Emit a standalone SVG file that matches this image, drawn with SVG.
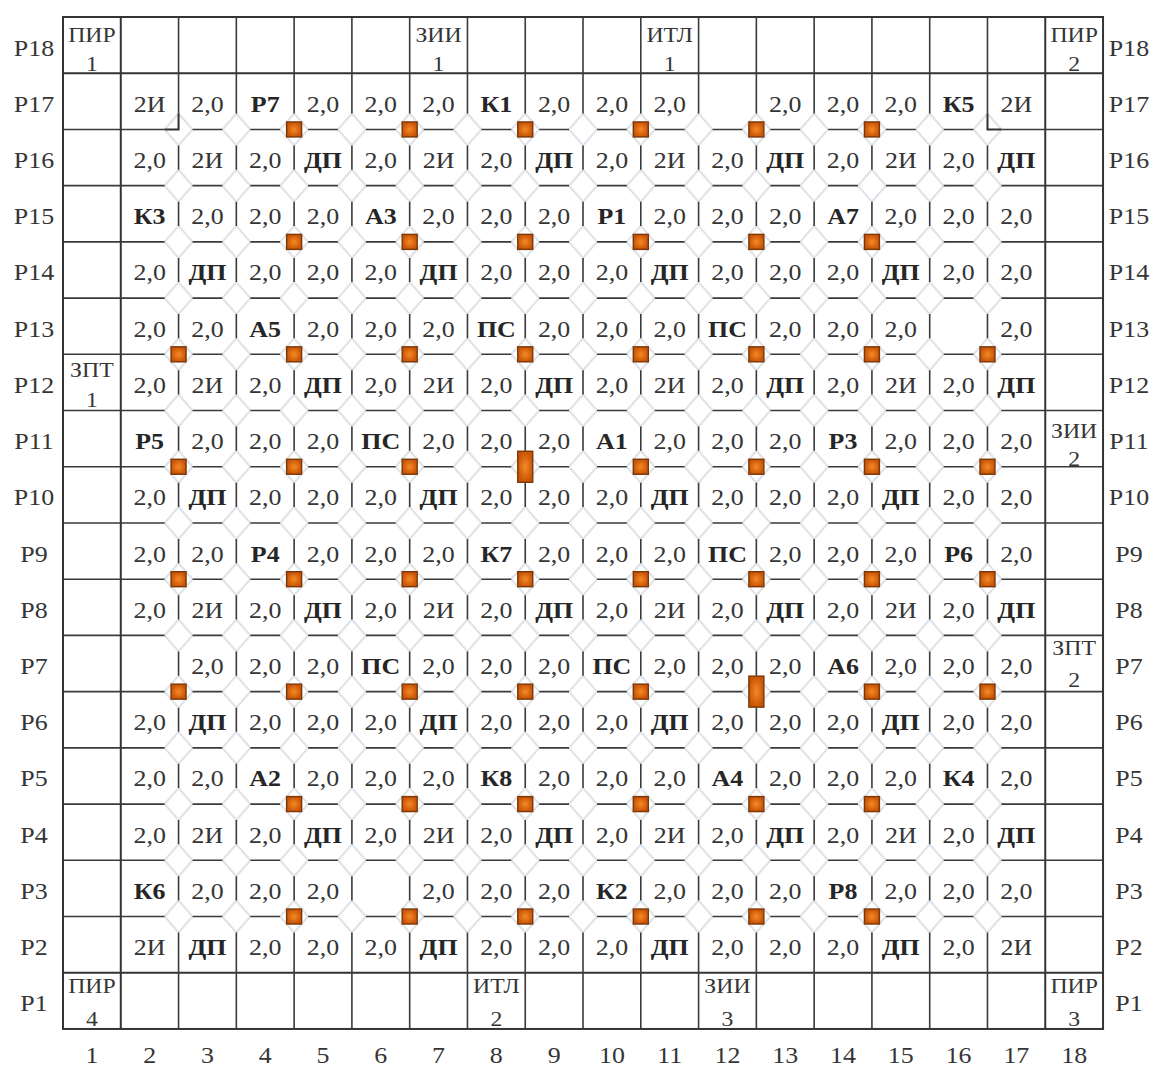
<svg xmlns="http://www.w3.org/2000/svg" width="1157" height="1066" viewBox="0 0 1157 1066">
<style>
.ln{fill:none;stroke:#3a3a3a;stroke-width:1.6}
.fr{fill:none;stroke:#333;stroke-width:2}
.dia{fill:none;stroke:#e0e3e7;stroke-width:2.2}
.sq{fill:url(#og);stroke:#7a3808;stroke-width:1.4}
text{font-family:"Liberation Serif","Times New Roman",serif;font-size:24px;fill:#353535;text-anchor:middle}
.b{font-weight:bold;fill:#262626}
.s{font-size:22px}
</style>
<defs>
<radialGradient id="og"><stop offset="0" stop-color="#f58a25"/><stop offset="1" stop-color="#c95407"/></radialGradient>
<rect id="q" class="sq" x="-7.5" y="-7.5" width="15" height="15"/>
<rect id="qt" class="sq" x="-7.5" y="-15.5" width="15" height="31"/>
</defs>
<rect width="1157" height="1066" fill="#fff"/>
<g id="octagon-pattern" class="dia">
<path d="M164.56,129.44l14,-16 14,16-14,16zm57.78,0l14,-16 14,16-14,16zm57.78,0l14,-16 14,16-14,16zm57.78,0l14,-16 14,16-14,16zm57.78,0l14,-16 14,16-14,16zm57.78,0l14,-16 14,16-14,16zm57.78,0l14,-16 14,16-14,16zm57.78,0l14,-16 14,16-14,16zm57.78,0l14,-16 14,16-14,16zm57.78,0l14,-16 14,16-14,16zm57.78,0l14,-16 14,16-14,16zm57.78,0l14,-16 14,16-14,16zm57.78,0l14,-16 14,16-14,16zm57.78,0l14,-16 14,16-14,16zm57.78,0l14,-16 14,16-14,16z"/>
<path d="M164.56,185.66l14,-16 14,16-14,16zm57.78,0l14,-16 14,16-14,16zm57.78,0l14,-16 14,16-14,16zm57.78,0l14,-16 14,16-14,16zm57.78,0l14,-16 14,16-14,16zm57.78,0l14,-16 14,16-14,16zm57.78,0l14,-16 14,16-14,16zm57.78,0l14,-16 14,16-14,16zm57.78,0l14,-16 14,16-14,16zm57.78,0l14,-16 14,16-14,16zm57.78,0l14,-16 14,16-14,16zm57.78,0l14,-16 14,16-14,16zm57.78,0l14,-16 14,16-14,16zm57.78,0l14,-16 14,16-14,16zm57.78,0l14,-16 14,16-14,16z"/>
<path d="M164.56,241.88l14,-16 14,16-14,16zm57.78,0l14,-16 14,16-14,16zm57.78,0l14,-16 14,16-14,16zm57.78,0l14,-16 14,16-14,16zm57.78,0l14,-16 14,16-14,16zm57.78,0l14,-16 14,16-14,16zm57.78,0l14,-16 14,16-14,16zm57.78,0l14,-16 14,16-14,16zm57.78,0l14,-16 14,16-14,16zm57.78,0l14,-16 14,16-14,16zm57.78,0l14,-16 14,16-14,16zm57.78,0l14,-16 14,16-14,16zm57.78,0l14,-16 14,16-14,16zm57.78,0l14,-16 14,16-14,16zm57.78,0l14,-16 14,16-14,16z"/>
<path d="M164.56,298.1l14,-16 14,16-14,16zm57.78,0l14,-16 14,16-14,16zm57.78,0l14,-16 14,16-14,16zm57.78,0l14,-16 14,16-14,16zm57.78,0l14,-16 14,16-14,16zm57.78,0l14,-16 14,16-14,16zm57.78,0l14,-16 14,16-14,16zm57.78,0l14,-16 14,16-14,16zm57.78,0l14,-16 14,16-14,16zm57.78,0l14,-16 14,16-14,16zm57.78,0l14,-16 14,16-14,16zm57.78,0l14,-16 14,16-14,16zm57.78,0l14,-16 14,16-14,16zm57.78,0l14,-16 14,16-14,16zm57.78,0l14,-16 14,16-14,16z"/>
<path d="M164.56,354.32l14,-16 14,16-14,16zm57.78,0l14,-16 14,16-14,16zm57.78,0l14,-16 14,16-14,16zm57.78,0l14,-16 14,16-14,16zm57.78,0l14,-16 14,16-14,16zm57.78,0l14,-16 14,16-14,16zm57.78,0l14,-16 14,16-14,16zm57.78,0l14,-16 14,16-14,16zm57.78,0l14,-16 14,16-14,16zm57.78,0l14,-16 14,16-14,16zm57.78,0l14,-16 14,16-14,16zm57.78,0l14,-16 14,16-14,16zm57.78,0l14,-16 14,16-14,16zm57.78,0l14,-16 14,16-14,16zm57.78,0l14,-16 14,16-14,16z"/>
<path d="M164.56,410.54l14,-16 14,16-14,16zm57.78,0l14,-16 14,16-14,16zm57.78,0l14,-16 14,16-14,16zm57.78,0l14,-16 14,16-14,16zm57.78,0l14,-16 14,16-14,16zm57.78,0l14,-16 14,16-14,16zm57.78,0l14,-16 14,16-14,16zm57.78,0l14,-16 14,16-14,16zm57.78,0l14,-16 14,16-14,16zm57.78,0l14,-16 14,16-14,16zm57.78,0l14,-16 14,16-14,16zm57.78,0l14,-16 14,16-14,16zm57.78,0l14,-16 14,16-14,16zm57.78,0l14,-16 14,16-14,16zm57.78,0l14,-16 14,16-14,16z"/>
<path d="M164.56,466.76l14,-16 14,16-14,16zm57.78,0l14,-16 14,16-14,16zm57.78,0l14,-16 14,16-14,16zm57.78,0l14,-16 14,16-14,16zm57.78,0l14,-16 14,16-14,16zm57.78,0l14,-16 14,16-14,16zm57.78,0l14,-16 14,16-14,16zm57.78,0l14,-16 14,16-14,16zm57.78,0l14,-16 14,16-14,16zm57.78,0l14,-16 14,16-14,16zm57.78,0l14,-16 14,16-14,16zm57.78,0l14,-16 14,16-14,16zm57.78,0l14,-16 14,16-14,16zm57.78,0l14,-16 14,16-14,16zm57.78,0l14,-16 14,16-14,16z"/>
<path d="M164.56,522.98l14,-16 14,16-14,16zm57.78,0l14,-16 14,16-14,16zm57.78,0l14,-16 14,16-14,16zm57.78,0l14,-16 14,16-14,16zm57.78,0l14,-16 14,16-14,16zm57.78,0l14,-16 14,16-14,16zm57.78,0l14,-16 14,16-14,16zm57.78,0l14,-16 14,16-14,16zm57.78,0l14,-16 14,16-14,16zm57.78,0l14,-16 14,16-14,16zm57.78,0l14,-16 14,16-14,16zm57.78,0l14,-16 14,16-14,16zm57.78,0l14,-16 14,16-14,16zm57.78,0l14,-16 14,16-14,16zm57.78,0l14,-16 14,16-14,16z"/>
<path d="M164.56,579.2l14,-16 14,16-14,16zm57.78,0l14,-16 14,16-14,16zm57.78,0l14,-16 14,16-14,16zm57.78,0l14,-16 14,16-14,16zm57.78,0l14,-16 14,16-14,16zm57.78,0l14,-16 14,16-14,16zm57.78,0l14,-16 14,16-14,16zm57.78,0l14,-16 14,16-14,16zm57.78,0l14,-16 14,16-14,16zm57.78,0l14,-16 14,16-14,16zm57.78,0l14,-16 14,16-14,16zm57.78,0l14,-16 14,16-14,16zm57.78,0l14,-16 14,16-14,16zm57.78,0l14,-16 14,16-14,16zm57.78,0l14,-16 14,16-14,16z"/>
<path d="M164.56,635.42l14,-16 14,16-14,16zm57.78,0l14,-16 14,16-14,16zm57.78,0l14,-16 14,16-14,16zm57.78,0l14,-16 14,16-14,16zm57.78,0l14,-16 14,16-14,16zm57.78,0l14,-16 14,16-14,16zm57.78,0l14,-16 14,16-14,16zm57.78,0l14,-16 14,16-14,16zm57.78,0l14,-16 14,16-14,16zm57.78,0l14,-16 14,16-14,16zm57.78,0l14,-16 14,16-14,16zm57.78,0l14,-16 14,16-14,16zm57.78,0l14,-16 14,16-14,16zm57.78,0l14,-16 14,16-14,16zm57.78,0l14,-16 14,16-14,16z"/>
<path d="M164.56,691.64l14,-16 14,16-14,16zm57.78,0l14,-16 14,16-14,16zm57.78,0l14,-16 14,16-14,16zm57.78,0l14,-16 14,16-14,16zm57.78,0l14,-16 14,16-14,16zm57.78,0l14,-16 14,16-14,16zm57.78,0l14,-16 14,16-14,16zm57.78,0l14,-16 14,16-14,16zm57.78,0l14,-16 14,16-14,16zm57.78,0l14,-16 14,16-14,16zm57.78,0l14,-16 14,16-14,16zm57.78,0l14,-16 14,16-14,16zm57.78,0l14,-16 14,16-14,16zm57.78,0l14,-16 14,16-14,16zm57.78,0l14,-16 14,16-14,16z"/>
<path d="M164.56,747.86l14,-16 14,16-14,16zm57.78,0l14,-16 14,16-14,16zm57.78,0l14,-16 14,16-14,16zm57.78,0l14,-16 14,16-14,16zm57.78,0l14,-16 14,16-14,16zm57.78,0l14,-16 14,16-14,16zm57.78,0l14,-16 14,16-14,16zm57.78,0l14,-16 14,16-14,16zm57.78,0l14,-16 14,16-14,16zm57.78,0l14,-16 14,16-14,16zm57.78,0l14,-16 14,16-14,16zm57.78,0l14,-16 14,16-14,16zm57.78,0l14,-16 14,16-14,16zm57.78,0l14,-16 14,16-14,16zm57.78,0l14,-16 14,16-14,16z"/>
<path d="M164.56,804.08l14,-16 14,16-14,16zm57.78,0l14,-16 14,16-14,16zm57.78,0l14,-16 14,16-14,16zm57.78,0l14,-16 14,16-14,16zm57.78,0l14,-16 14,16-14,16zm57.78,0l14,-16 14,16-14,16zm57.78,0l14,-16 14,16-14,16zm57.78,0l14,-16 14,16-14,16zm57.78,0l14,-16 14,16-14,16zm57.78,0l14,-16 14,16-14,16zm57.78,0l14,-16 14,16-14,16zm57.78,0l14,-16 14,16-14,16zm57.78,0l14,-16 14,16-14,16zm57.78,0l14,-16 14,16-14,16zm57.78,0l14,-16 14,16-14,16z"/>
<path d="M164.56,860.3l14,-16 14,16-14,16zm57.78,0l14,-16 14,16-14,16zm57.78,0l14,-16 14,16-14,16zm57.78,0l14,-16 14,16-14,16zm57.78,0l14,-16 14,16-14,16zm57.78,0l14,-16 14,16-14,16zm57.78,0l14,-16 14,16-14,16zm57.78,0l14,-16 14,16-14,16zm57.78,0l14,-16 14,16-14,16zm57.78,0l14,-16 14,16-14,16zm57.78,0l14,-16 14,16-14,16zm57.78,0l14,-16 14,16-14,16zm57.78,0l14,-16 14,16-14,16zm57.78,0l14,-16 14,16-14,16zm57.78,0l14,-16 14,16-14,16z"/>
<path d="M164.56,916.52l14,-16 14,16-14,16zm57.78,0l14,-16 14,16-14,16zm57.78,0l14,-16 14,16-14,16zm57.78,0l14,-16 14,16-14,16zm57.78,0l14,-16 14,16-14,16zm57.78,0l14,-16 14,16-14,16zm57.78,0l14,-16 14,16-14,16zm57.78,0l14,-16 14,16-14,16zm57.78,0l14,-16 14,16-14,16zm57.78,0l14,-16 14,16-14,16zm57.78,0l14,-16 14,16-14,16zm57.78,0l14,-16 14,16-14,16zm57.78,0l14,-16 14,16-14,16zm57.78,0l14,-16 14,16-14,16zm57.78,0l14,-16 14,16-14,16z"/>
</g>
<g id="grid">
<rect class="fr" x="63" y="17" width="1040.04" height="1011.96"/>
<path class="fr" d="M120.78,17V1028.96M1045.26,17V1028.96M63,73.22H1103.04M63,972.74H1103.04"/>
<g id="h-dashes" class="ln">
<path d="M63,129.44H164.56m28,0h29.78m28,0h29.78m28,0h29.78m28,0h29.78m28,0h29.78m28,0h29.78m28,0h29.78m28,0h29.78m28,0h29.78m28,0h29.78m28,0h29.78m28,0h29.78m28,0h29.78m28,0h29.78m28,0H1103.04"/>
<path d="M63,185.66H164.56m28,0h29.78m28,0h29.78m28,0h29.78m28,0h29.78m28,0h29.78m28,0h29.78m28,0h29.78m28,0h29.78m28,0h29.78m28,0h29.78m28,0h29.78m28,0h29.78m28,0h29.78m28,0h29.78m28,0H1103.04"/>
<path d="M63,241.88H164.56m28,0h29.78m28,0h29.78m28,0h29.78m28,0h29.78m28,0h29.78m28,0h29.78m28,0h29.78m28,0h29.78m28,0h29.78m28,0h29.78m28,0h29.78m28,0h29.78m28,0h29.78m28,0h29.78m28,0H1103.04"/>
<path d="M63,298.1H164.56m28,0h29.78m28,0h29.78m28,0h29.78m28,0h29.78m28,0h29.78m28,0h29.78m28,0h29.78m28,0h29.78m28,0h29.78m28,0h29.78m28,0h29.78m28,0h29.78m28,0h29.78m28,0h29.78m28,0H1103.04"/>
<path d="M63,354.32H164.56m28,0h29.78m28,0h29.78m28,0h29.78m28,0h29.78m28,0h29.78m28,0h29.78m28,0h29.78m28,0h29.78m28,0h29.78m28,0h29.78m28,0h29.78m28,0h29.78m28,0h29.78m28,0h29.78m28,0H1103.04"/>
<path d="M63,410.54H164.56m28,0h29.78m28,0h29.78m28,0h29.78m28,0h29.78m28,0h29.78m28,0h29.78m28,0h29.78m28,0h29.78m28,0h29.78m28,0h29.78m28,0h29.78m28,0h29.78m28,0h29.78m28,0h29.78m28,0H1103.04"/>
<path d="M63,466.76H164.56m28,0h29.78m28,0h29.78m28,0h29.78m28,0h29.78m28,0h29.78m28,0h29.78m28,0h29.78m28,0h29.78m28,0h29.78m28,0h29.78m28,0h29.78m28,0h29.78m28,0h29.78m28,0h29.78m28,0H1103.04"/>
<path d="M63,522.98H164.56m28,0h29.78m28,0h29.78m28,0h29.78m28,0h29.78m28,0h29.78m28,0h29.78m28,0h29.78m28,0h29.78m28,0h29.78m28,0h29.78m28,0h29.78m28,0h29.78m28,0h29.78m28,0h29.78m28,0H1103.04"/>
<path d="M63,579.2H164.56m28,0h29.78m28,0h29.78m28,0h29.78m28,0h29.78m28,0h29.78m28,0h29.78m28,0h29.78m28,0h29.78m28,0h29.78m28,0h29.78m28,0h29.78m28,0h29.78m28,0h29.78m28,0h29.78m28,0H1103.04"/>
<path d="M63,635.42H164.56m28,0h29.78m28,0h29.78m28,0h29.78m28,0h29.78m28,0h29.78m28,0h29.78m28,0h29.78m28,0h29.78m28,0h29.78m28,0h29.78m28,0h29.78m28,0h29.78m28,0h29.78m28,0h29.78m28,0H1103.04"/>
<path d="M63,691.64H164.56m28,0h29.78m28,0h29.78m28,0h29.78m28,0h29.78m28,0h29.78m28,0h29.78m28,0h29.78m28,0h29.78m28,0h29.78m28,0h29.78m28,0h29.78m28,0h29.78m28,0h29.78m28,0h29.78m28,0H1103.04"/>
<path d="M63,747.86H164.56m28,0h29.78m28,0h29.78m28,0h29.78m28,0h29.78m28,0h29.78m28,0h29.78m28,0h29.78m28,0h29.78m28,0h29.78m28,0h29.78m28,0h29.78m28,0h29.78m28,0h29.78m28,0h29.78m28,0H1103.04"/>
<path d="M63,804.08H164.56m28,0h29.78m28,0h29.78m28,0h29.78m28,0h29.78m28,0h29.78m28,0h29.78m28,0h29.78m28,0h29.78m28,0h29.78m28,0h29.78m28,0h29.78m28,0h29.78m28,0h29.78m28,0h29.78m28,0H1103.04"/>
<path d="M63,860.3H164.56m28,0h29.78m28,0h29.78m28,0h29.78m28,0h29.78m28,0h29.78m28,0h29.78m28,0h29.78m28,0h29.78m28,0h29.78m28,0h29.78m28,0h29.78m28,0h29.78m28,0h29.78m28,0h29.78m28,0H1103.04"/>
<path d="M63,916.52H164.56m28,0h29.78m28,0h29.78m28,0h29.78m28,0h29.78m28,0h29.78m28,0h29.78m28,0h29.78m28,0h29.78m28,0h29.78m28,0h29.78m28,0h29.78m28,0h29.78m28,0h29.78m28,0h29.78m28,0H1103.04"/>
</g>
<g id="v-bars" class="ln">
<path d="M178.56,17V113.44m0,32v24.22m0,32v24.22m0,32v24.22m0,32v24.22m0,32v24.22m0,32v24.22m0,32v24.22m0,32v24.22m0,32v24.22m0,32v24.22m0,32v24.22m0,32v24.22m0,32v24.22m0,32v24.22m0,32V1028.96"/>
<path d="M236.34,17V113.44m0,32v24.22m0,32v24.22m0,32v24.22m0,32v24.22m0,32v24.22m0,32v24.22m0,32v24.22m0,32v24.22m0,32v24.22m0,32v24.22m0,32v24.22m0,32v24.22m0,32v24.22m0,32v24.22m0,32V1028.96"/>
<path d="M294.12,17V113.44m0,32v24.22m0,32v24.22m0,32v24.22m0,32v24.22m0,32v24.22m0,32v24.22m0,32v24.22m0,32v24.22m0,32v24.22m0,32v24.22m0,32v24.22m0,32v24.22m0,32v24.22m0,32v24.22m0,32V1028.96"/>
<path d="M351.9,17V113.44m0,32v24.22m0,32v24.22m0,32v24.22m0,32v24.22m0,32v24.22m0,32v24.22m0,32v24.22m0,32v24.22m0,32v24.22m0,32v24.22m0,32v24.22m0,32v24.22m0,32v24.22m0,32v24.22m0,32V1028.96"/>
<path d="M409.68,17V113.44m0,32v24.22m0,32v24.22m0,32v24.22m0,32v24.22m0,32v24.22m0,32v24.22m0,32v24.22m0,32v24.22m0,32v24.22m0,32v24.22m0,32v24.22m0,32v24.22m0,32v24.22m0,32v24.22m0,32V1028.96"/>
<path d="M467.46,17V113.44m0,32v24.22m0,32v24.22m0,32v24.22m0,32v24.22m0,32v24.22m0,32v24.22m0,32v24.22m0,32v24.22m0,32v24.22m0,32v24.22m0,32v24.22m0,32v24.22m0,32v24.22m0,32v24.22m0,32V1028.96"/>
<path d="M525.24,17V113.44m0,32v24.22m0,32v24.22m0,32v24.22m0,32v24.22m0,32v24.22m0,32v24.22m0,32v24.22m0,32v24.22m0,32v24.22m0,32v24.22m0,32v24.22m0,32v24.22m0,32v24.22m0,32v24.22m0,32V1028.96"/>
<path d="M583.02,17V113.44m0,32v24.22m0,32v24.22m0,32v24.22m0,32v24.22m0,32v24.22m0,32v24.22m0,32v24.22m0,32v24.22m0,32v24.22m0,32v24.22m0,32v24.22m0,32v24.22m0,32v24.22m0,32v24.22m0,32V1028.96"/>
<path d="M640.8,17V113.44m0,32v24.22m0,32v24.22m0,32v24.22m0,32v24.22m0,32v24.22m0,32v24.22m0,32v24.22m0,32v24.22m0,32v24.22m0,32v24.22m0,32v24.22m0,32v24.22m0,32v24.22m0,32v24.22m0,32V1028.96"/>
<path d="M698.58,17V113.44m0,32v24.22m0,32v24.22m0,32v24.22m0,32v24.22m0,32v24.22m0,32v24.22m0,32v24.22m0,32v24.22m0,32v24.22m0,32v24.22m0,32v24.22m0,32v24.22m0,32v24.22m0,32v24.22m0,32V1028.96"/>
<path d="M756.36,17V113.44m0,32v24.22m0,32v24.22m0,32v24.22m0,32v24.22m0,32v24.22m0,32v24.22m0,32v24.22m0,32v24.22m0,32v24.22m0,32v24.22m0,32v24.22m0,32v24.22m0,32v24.22m0,32v24.22m0,32V1028.96"/>
<path d="M814.14,17V113.44m0,32v24.22m0,32v24.22m0,32v24.22m0,32v24.22m0,32v24.22m0,32v24.22m0,32v24.22m0,32v24.22m0,32v24.22m0,32v24.22m0,32v24.22m0,32v24.22m0,32v24.22m0,32v24.22m0,32V1028.96"/>
<path d="M871.92,17V113.44m0,32v24.22m0,32v24.22m0,32v24.22m0,32v24.22m0,32v24.22m0,32v24.22m0,32v24.22m0,32v24.22m0,32v24.22m0,32v24.22m0,32v24.22m0,32v24.22m0,32v24.22m0,32v24.22m0,32V1028.96"/>
<path d="M929.7,17V113.44m0,32v24.22m0,32v24.22m0,32v24.22m0,32v24.22m0,32v24.22m0,32v24.22m0,32v24.22m0,32v24.22m0,32v24.22m0,32v24.22m0,32v24.22m0,32v24.22m0,32v24.22m0,32v24.22m0,32V1028.96"/>
<path d="M987.48,17V113.44m0,32v24.22m0,32v24.22m0,32v24.22m0,32v24.22m0,32v24.22m0,32v24.22m0,32v24.22m0,32v24.22m0,32v24.22m0,32v24.22m0,32v24.22m0,32v24.22m0,32v24.22m0,32v24.22m0,32V1028.96"/>
</g>
<path id="corner-boxes" class="fr" d="M164.56,129.44H178.56V113.44M987.48,113.44V129.44H1001.48"/>
</g>
<g id="markers">
<use href="#q" x="294.12" y="129.44"/><use href="#q" x="409.68" y="129.44"/><use href="#q" x="525.24" y="129.44"/><use href="#q" x="640.8" y="129.44"/><use href="#q" x="756.36" y="129.44"/><use href="#q" x="871.92" y="129.44"/>
<use href="#q" x="294.12" y="241.88"/><use href="#q" x="409.68" y="241.88"/><use href="#q" x="525.24" y="241.88"/><use href="#q" x="640.8" y="241.88"/><use href="#q" x="756.36" y="241.88"/><use href="#q" x="871.92" y="241.88"/>
<use href="#q" x="178.56" y="354.32"/><use href="#q" x="294.12" y="354.32"/><use href="#q" x="409.68" y="354.32"/><use href="#q" x="525.24" y="354.32"/><use href="#q" x="640.8" y="354.32"/><use href="#q" x="756.36" y="354.32"/><use href="#q" x="871.92" y="354.32"/><use href="#q" x="987.48" y="354.32"/>
<use href="#q" x="178.56" y="466.76"/><use href="#q" x="294.12" y="466.76"/><use href="#q" x="409.68" y="466.76"/><use href="#qt" x="525.24" y="466.76"/><use href="#q" x="640.8" y="466.76"/><use href="#q" x="756.36" y="466.76"/><use href="#q" x="871.92" y="466.76"/><use href="#q" x="987.48" y="466.76"/>
<use href="#q" x="178.56" y="579.2"/><use href="#q" x="294.12" y="579.2"/><use href="#q" x="409.68" y="579.2"/><use href="#q" x="525.24" y="579.2"/><use href="#q" x="640.8" y="579.2"/><use href="#q" x="756.36" y="579.2"/><use href="#q" x="871.92" y="579.2"/><use href="#q" x="987.48" y="579.2"/>
<use href="#q" x="178.56" y="691.64"/><use href="#q" x="294.12" y="691.64"/><use href="#q" x="409.68" y="691.64"/><use href="#q" x="525.24" y="691.64"/><use href="#q" x="640.8" y="691.64"/><use href="#qt" x="756.36" y="691.64"/><use href="#q" x="871.92" y="691.64"/><use href="#q" x="987.48" y="691.64"/>
<use href="#q" x="294.12" y="804.08"/><use href="#q" x="409.68" y="804.08"/><use href="#q" x="525.24" y="804.08"/><use href="#q" x="640.8" y="804.08"/><use href="#q" x="756.36" y="804.08"/><use href="#q" x="871.92" y="804.08"/>
<use href="#q" x="294.12" y="916.52"/><use href="#q" x="409.68" y="916.52"/><use href="#q" x="525.24" y="916.52"/><use href="#q" x="640.8" y="916.52"/><use href="#q" x="756.36" y="916.52"/><use href="#q" x="871.92" y="916.52"/>
</g>
<g id="labels" transform="scale(1.08,1)">
<text id="r18" y="55.6"><tspan x="31.5">Р18</tspan><tspan x="1045.4">Р18</tspan></text>
<text y="111.8"><tspan x="31.5">Р17</tspan><tspan x="138.58">2И</tspan><tspan x="192.08">2,0</tspan><tspan x="245.58" class="b">Р7</tspan><tspan x="299.08">2,0</tspan><tspan x="352.58">2,0</tspan><tspan x="406.08">2,0</tspan><tspan x="459.58" class="b">К1</tspan><tspan x="513.08">2,0</tspan><tspan x="566.58">2,0</tspan><tspan x="620.08">2,0</tspan><tspan x="727.08">2,0</tspan><tspan x="780.58">2,0</tspan><tspan x="834.08">2,0</tspan><tspan x="887.58" class="b">К5</tspan><tspan x="941.08">2И</tspan><tspan x="1045.4">Р17</tspan></text>
<text y="168.1"><tspan x="31.5">Р16</tspan><tspan x="138.58">2,0</tspan><tspan x="192.08">2И</tspan><tspan x="245.58">2,0</tspan><tspan x="299.08" class="b">ДП</tspan><tspan x="352.58">2,0</tspan><tspan x="406.08">2И</tspan><tspan x="459.58">2,0</tspan><tspan x="513.08" class="b">ДП</tspan><tspan x="566.58">2,0</tspan><tspan x="620.08">2И</tspan><tspan x="673.58">2,0</tspan><tspan x="727.08" class="b">ДП</tspan><tspan x="780.58">2,0</tspan><tspan x="834.08">2И</tspan><tspan x="887.58">2,0</tspan><tspan x="941.08" class="b">ДП</tspan><tspan x="1045.4">Р16</tspan></text>
<text y="224.3"><tspan x="31.5">Р15</tspan><tspan x="138.58" class="b">К3</tspan><tspan x="192.08">2,0</tspan><tspan x="245.58">2,0</tspan><tspan x="299.08">2,0</tspan><tspan x="352.58" class="b">А3</tspan><tspan x="406.08">2,0</tspan><tspan x="459.58">2,0</tspan><tspan x="513.08">2,0</tspan><tspan x="566.58" class="b">Р1</tspan><tspan x="620.08">2,0</tspan><tspan x="673.58">2,0</tspan><tspan x="727.08">2,0</tspan><tspan x="780.58" class="b">А7</tspan><tspan x="834.08">2,0</tspan><tspan x="887.58">2,0</tspan><tspan x="941.08">2,0</tspan><tspan x="1045.4">Р15</tspan></text>
<text y="280.5"><tspan x="31.5">Р14</tspan><tspan x="138.58">2,0</tspan><tspan x="192.08" class="b">ДП</tspan><tspan x="245.58">2,0</tspan><tspan x="299.08">2,0</tspan><tspan x="352.58">2,0</tspan><tspan x="406.08" class="b">ДП</tspan><tspan x="459.58">2,0</tspan><tspan x="513.08">2,0</tspan><tspan x="566.58">2,0</tspan><tspan x="620.08" class="b">ДП</tspan><tspan x="673.58">2,0</tspan><tspan x="727.08">2,0</tspan><tspan x="780.58">2,0</tspan><tspan x="834.08" class="b">ДП</tspan><tspan x="887.58">2,0</tspan><tspan x="941.08">2,0</tspan><tspan x="1045.4">Р14</tspan></text>
<text y="336.7"><tspan x="31.5">Р13</tspan><tspan x="138.58">2,0</tspan><tspan x="192.08">2,0</tspan><tspan x="245.58" class="b">А5</tspan><tspan x="299.08">2,0</tspan><tspan x="352.58">2,0</tspan><tspan x="406.08">2,0</tspan><tspan x="459.58" class="b">ПС</tspan><tspan x="513.08">2,0</tspan><tspan x="566.58">2,0</tspan><tspan x="620.08">2,0</tspan><tspan x="673.58" class="b">ПС</tspan><tspan x="727.08">2,0</tspan><tspan x="780.58">2,0</tspan><tspan x="834.08">2,0</tspan><tspan x="941.08">2,0</tspan><tspan x="1045.4">Р13</tspan></text>
<text y="392.9"><tspan x="31.5">Р12</tspan><tspan x="138.58">2,0</tspan><tspan x="192.08">2И</tspan><tspan x="245.58">2,0</tspan><tspan x="299.08" class="b">ДП</tspan><tspan x="352.58">2,0</tspan><tspan x="406.08">2И</tspan><tspan x="459.58">2,0</tspan><tspan x="513.08" class="b">ДП</tspan><tspan x="566.58">2,0</tspan><tspan x="620.08">2И</tspan><tspan x="673.58">2,0</tspan><tspan x="727.08" class="b">ДП</tspan><tspan x="780.58">2,0</tspan><tspan x="834.08">2И</tspan><tspan x="887.58">2,0</tspan><tspan x="941.08" class="b">ДП</tspan><tspan x="1045.4">Р12</tspan></text>
<text y="449.2"><tspan x="31.5">Р11</tspan><tspan x="138.58" class="b">Р5</tspan><tspan x="192.08">2,0</tspan><tspan x="245.58">2,0</tspan><tspan x="299.08">2,0</tspan><tspan x="352.58" class="b">ПС</tspan><tspan x="406.08">2,0</tspan><tspan x="459.58">2,0</tspan><tspan x="513.08">2,0</tspan><tspan x="566.58" class="b">А1</tspan><tspan x="620.08">2,0</tspan><tspan x="673.58">2,0</tspan><tspan x="727.08">2,0</tspan><tspan x="780.58" class="b">Р3</tspan><tspan x="834.08">2,0</tspan><tspan x="887.58">2,0</tspan><tspan x="941.08">2,0</tspan><tspan x="1045.4">Р11</tspan></text>
<text y="505.4"><tspan x="31.5">Р10</tspan><tspan x="138.58">2,0</tspan><tspan x="192.08" class="b">ДП</tspan><tspan x="245.58">2,0</tspan><tspan x="299.08">2,0</tspan><tspan x="352.58">2,0</tspan><tspan x="406.08" class="b">ДП</tspan><tspan x="459.58">2,0</tspan><tspan x="513.08">2,0</tspan><tspan x="566.58">2,0</tspan><tspan x="620.08" class="b">ДП</tspan><tspan x="673.58">2,0</tspan><tspan x="727.08">2,0</tspan><tspan x="780.58">2,0</tspan><tspan x="834.08" class="b">ДП</tspan><tspan x="887.58">2,0</tspan><tspan x="941.08">2,0</tspan><tspan x="1045.4">Р10</tspan></text>
<text y="561.6"><tspan x="31.5">Р9</tspan><tspan x="138.58">2,0</tspan><tspan x="192.08">2,0</tspan><tspan x="245.58" class="b">Р4</tspan><tspan x="299.08">2,0</tspan><tspan x="352.58">2,0</tspan><tspan x="406.08">2,0</tspan><tspan x="459.58" class="b">К7</tspan><tspan x="513.08">2,0</tspan><tspan x="566.58">2,0</tspan><tspan x="620.08">2,0</tspan><tspan x="673.58" class="b">ПС</tspan><tspan x="727.08">2,0</tspan><tspan x="780.58">2,0</tspan><tspan x="834.08">2,0</tspan><tspan x="887.58" class="b">Р6</tspan><tspan x="941.08">2,0</tspan><tspan x="1045.4">Р9</tspan></text>
<text y="617.8"><tspan x="31.5">Р8</tspan><tspan x="138.58">2,0</tspan><tspan x="192.08">2И</tspan><tspan x="245.58">2,0</tspan><tspan x="299.08" class="b">ДП</tspan><tspan x="352.58">2,0</tspan><tspan x="406.08">2И</tspan><tspan x="459.58">2,0</tspan><tspan x="513.08" class="b">ДП</tspan><tspan x="566.58">2,0</tspan><tspan x="620.08">2И</tspan><tspan x="673.58">2,0</tspan><tspan x="727.08" class="b">ДП</tspan><tspan x="780.58">2,0</tspan><tspan x="834.08">2И</tspan><tspan x="887.58">2,0</tspan><tspan x="941.08" class="b">ДП</tspan><tspan x="1045.4">Р8</tspan></text>
<text y="674"><tspan x="31.5">Р7</tspan><tspan x="192.08">2,0</tspan><tspan x="245.58">2,0</tspan><tspan x="299.08">2,0</tspan><tspan x="352.58" class="b">ПС</tspan><tspan x="406.08">2,0</tspan><tspan x="459.58">2,0</tspan><tspan x="513.08">2,0</tspan><tspan x="566.58" class="b">ПС</tspan><tspan x="620.08">2,0</tspan><tspan x="673.58">2,0</tspan><tspan x="727.08">2,0</tspan><tspan x="780.58" class="b">А6</tspan><tspan x="834.08">2,0</tspan><tspan x="887.58">2,0</tspan><tspan x="941.08">2,0</tspan><tspan x="1045.4">Р7</tspan></text>
<text y="730.3"><tspan x="31.5">Р6</tspan><tspan x="138.58">2,0</tspan><tspan x="192.08" class="b">ДП</tspan><tspan x="245.58">2,0</tspan><tspan x="299.08">2,0</tspan><tspan x="352.58">2,0</tspan><tspan x="406.08" class="b">ДП</tspan><tspan x="459.58">2,0</tspan><tspan x="513.08">2,0</tspan><tspan x="566.58">2,0</tspan><tspan x="620.08" class="b">ДП</tspan><tspan x="673.58">2,0</tspan><tspan x="727.08">2,0</tspan><tspan x="780.58">2,0</tspan><tspan x="834.08" class="b">ДП</tspan><tspan x="887.58">2,0</tspan><tspan x="941.08">2,0</tspan><tspan x="1045.4">Р6</tspan></text>
<text y="786.5"><tspan x="31.5">Р5</tspan><tspan x="138.58">2,0</tspan><tspan x="192.08">2,0</tspan><tspan x="245.58" class="b">А2</tspan><tspan x="299.08">2,0</tspan><tspan x="352.58">2,0</tspan><tspan x="406.08">2,0</tspan><tspan x="459.58" class="b">К8</tspan><tspan x="513.08">2,0</tspan><tspan x="566.58">2,0</tspan><tspan x="620.08">2,0</tspan><tspan x="673.58" class="b">А4</tspan><tspan x="727.08">2,0</tspan><tspan x="780.58">2,0</tspan><tspan x="834.08">2,0</tspan><tspan x="887.58" class="b">К4</tspan><tspan x="941.08">2,0</tspan><tspan x="1045.4">Р5</tspan></text>
<text y="842.7"><tspan x="31.5">Р4</tspan><tspan x="138.58">2,0</tspan><tspan x="192.08">2И</tspan><tspan x="245.58">2,0</tspan><tspan x="299.08" class="b">ДП</tspan><tspan x="352.58">2,0</tspan><tspan x="406.08">2И</tspan><tspan x="459.58">2,0</tspan><tspan x="513.08" class="b">ДП</tspan><tspan x="566.58">2,0</tspan><tspan x="620.08">2И</tspan><tspan x="673.58">2,0</tspan><tspan x="727.08" class="b">ДП</tspan><tspan x="780.58">2,0</tspan><tspan x="834.08">2И</tspan><tspan x="887.58">2,0</tspan><tspan x="941.08" class="b">ДП</tspan><tspan x="1045.4">Р4</tspan></text>
<text y="898.9"><tspan x="31.5">Р3</tspan><tspan x="138.58" class="b">К6</tspan><tspan x="192.08">2,0</tspan><tspan x="245.58">2,0</tspan><tspan x="299.08">2,0</tspan><tspan x="406.08">2,0</tspan><tspan x="459.58">2,0</tspan><tspan x="513.08">2,0</tspan><tspan x="566.58" class="b">К2</tspan><tspan x="620.08">2,0</tspan><tspan x="673.58">2,0</tspan><tspan x="727.08">2,0</tspan><tspan x="780.58" class="b">Р8</tspan><tspan x="834.08">2,0</tspan><tspan x="887.58">2,0</tspan><tspan x="941.08">2,0</tspan><tspan x="1045.4">Р3</tspan></text>
<text y="955.1"><tspan x="31.5">Р2</tspan><tspan x="138.58">2И</tspan><tspan x="192.08" class="b">ДП</tspan><tspan x="245.58">2,0</tspan><tspan x="299.08">2,0</tspan><tspan x="352.58">2,0</tspan><tspan x="406.08" class="b">ДП</tspan><tspan x="459.58">2,0</tspan><tspan x="513.08">2,0</tspan><tspan x="566.58">2,0</tspan><tspan x="620.08" class="b">ДП</tspan><tspan x="673.58">2,0</tspan><tspan x="727.08">2,0</tspan><tspan x="780.58">2,0</tspan><tspan x="834.08" class="b">ДП</tspan><tspan x="887.58">2,0</tspan><tspan x="941.08">2И</tspan><tspan x="1045.4">Р2</tspan></text>
<text y="1011.4"><tspan x="31.5">Р1</tspan><tspan x="1045.4">Р1</tspan></text>
<g id="zone-labels">
<text class="s" y="42"><tspan x="85.08">ПИР</tspan><tspan x="406.08">ЗИИ</tspan><tspan x="620.08">ИТЛ</tspan><tspan x="994.58">ПИР</tspan></text>
<text class="s" y="71"><tspan x="85.08">1</tspan><tspan x="406.08">1</tspan><tspan x="620.08">1</tspan><tspan x="994.58">2</tspan></text>
<text class="s" y="377"><tspan x="85.08">ЗПТ</tspan></text>
<text class="s" y="407"><tspan x="85.08">1</tspan></text>
<text class="s" y="438"><tspan x="994.58">ЗИИ</tspan></text>
<text class="s" y="466"><tspan x="994.58">2</tspan></text>
<text class="s" y="655"><tspan x="994.58">ЗПТ</tspan></text>
<text class="s" y="687"><tspan x="994.58">2</tspan></text>
<text class="s" y="993"><tspan x="85.08">ПИР</tspan><tspan x="459.58">ИТЛ</tspan><tspan x="673.58">ЗИИ</tspan><tspan x="994.58">ПИР</tspan></text>
<text class="s" y="1026"><tspan x="85.08">4</tspan><tspan x="459.58">2</tspan><tspan x="673.58">3</tspan><tspan x="994.58">3</tspan></text>
</g>
<text id="col-numbers" y="1063"><tspan x="85.08">1</tspan><tspan x="138.58">2</tspan><tspan x="192.08">3</tspan><tspan x="245.58">4</tspan><tspan x="299.08">5</tspan><tspan x="352.58">6</tspan><tspan x="406.08">7</tspan><tspan x="459.58">8</tspan><tspan x="513.08">9</tspan><tspan x="566.58">10</tspan><tspan x="620.08">11</tspan><tspan x="673.58">12</tspan><tspan x="727.08">13</tspan><tspan x="780.58">14</tspan><tspan x="834.08">15</tspan><tspan x="887.58">16</tspan><tspan x="941.08">17</tspan><tspan x="994.58">18</tspan></text>
</g>
</svg>
